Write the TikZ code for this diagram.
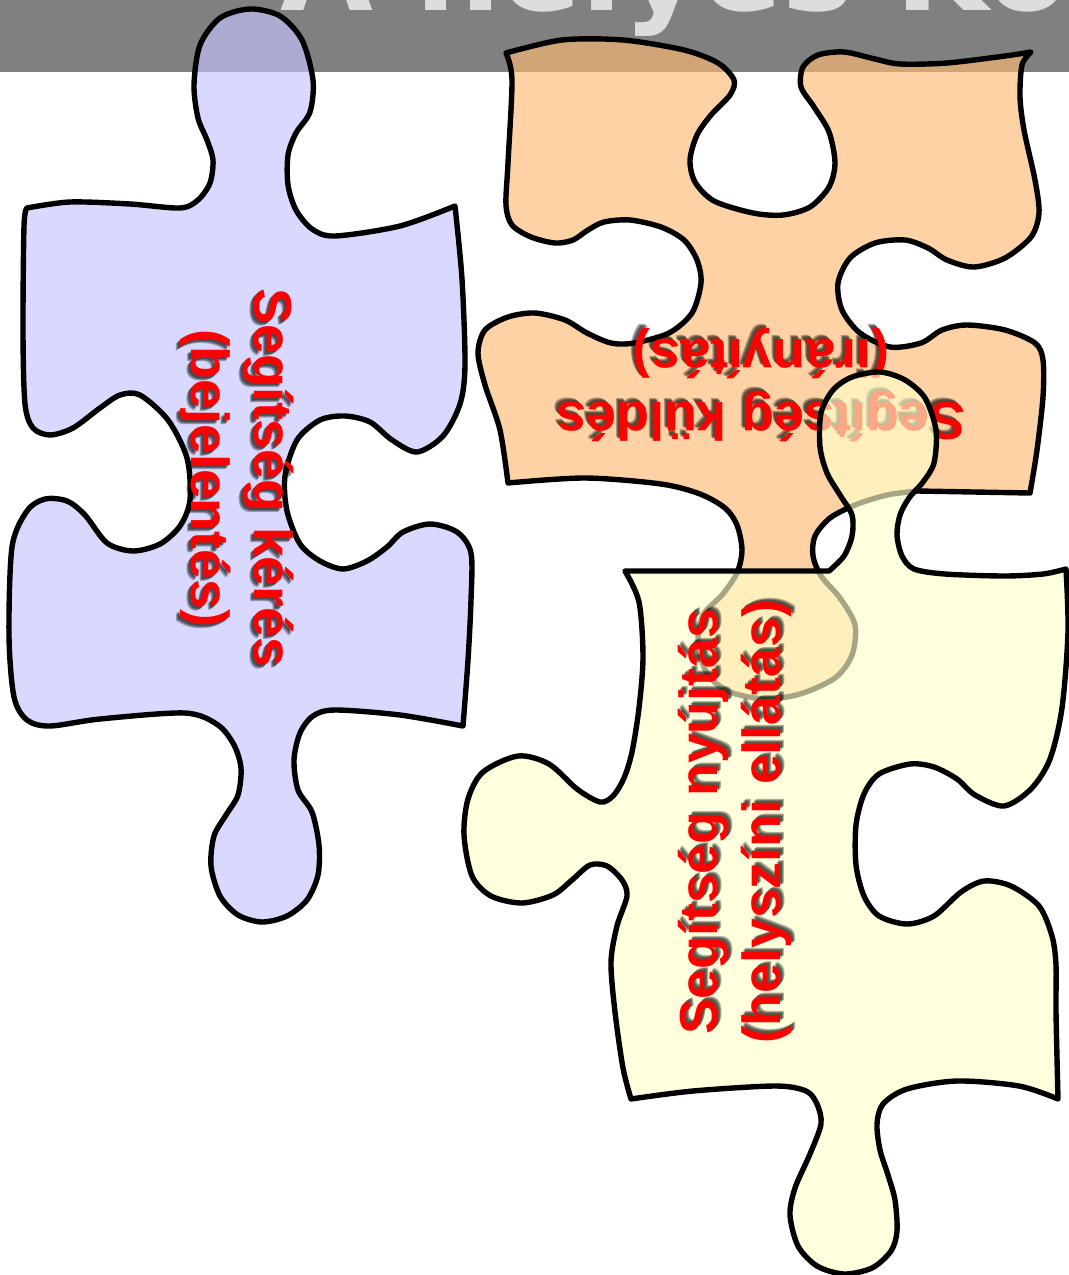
\documentclass[tikz,border=0pt]{standalone}
\usepackage{fontspec}
\setmainfont{Liberation Sans}
\newfontfamily\titlefont{DejaVu Sans}
\usepackage{tikz}
\definecolor{bandgray}{RGB}{128,128,128}
\definecolor{titlegray}{RGB}{221,221,221}
\definecolor{kekbg}{RGB}{197,197,255}
\definecolor{narancsbg}{RGB}{255,186,117}
\definecolor{sargabg}{RGB}{255,255,203}
\definecolor{felirat}{RGB}{255,0,0}
\tikzset{
  piece/.style={draw=black, line width=2.7pt, line join=round, fill opacity=0.65},
  piecetext/.style={font=\fontsize{26.8}{31.5}\selectfont\bfseries, align=center,
    inner sep=0pt, text=felirat},
  piecetext shadow/.style={piecetext, text=black, text opacity=0.3},
}

\begin{document}
\begin{tikzpicture}[x=0.5pt, y=-0.5pt]
  \useasboundingbox (0,0) rectangle (1069,1275);
  % header band
  \fill[bandgray] (0,0) rectangle (1069,72);
  \begin{scope}
    \clip (0,0) rectangle (1069,72);
    \node[anchor=base west, inner sep=0pt, text=titlegray,
      font=\titlefont\bfseries\fontsize{60}{72}\selectfont] (title) at (280,10) {A helyes Kom};
  \end{scope}

  % blue piece
  \path[piece, fill=kekbg]
    plot[smooth] coordinates {(27,208) (70,202) (130,204) (180,208) (198,200) (210,183)
      (213,160) (207,140) (198,118) (194,85) (200,45) (220,18) (250,9) (280,16) (302,40)
      (313,80) (310,112) (296,133) (288,155) (288,185) (296,210) (312,229) (335,236)
      (400,226) (455,206)}
    -- plot[smooth] coordinates {(455,206) (462,279) (465,365) (460,404) (443,436)
      (417,452) (392,440) (370,422) (345,416) (320,420) (297,440) (285,476) (287,511)
      (300,544) (320,561) (343,569) (367,561) (387,547) (403,532) (430,524) (457,532)
      (471,553) (471,600) (468,660) (463,726)}
    -- plot[smooth] coordinates {(463,726) (400,715) (335,710) (313,716) (300,733)
      (294,760) (298,790) (312,812) (319,845) (318,875) (307,900) (287,916) (262,922)
      (238,915) (220,896) (211,866) (214,836) (226,815) (238,795) (241,768) (234,745)
      (218,725) (185,713) (100,719) (50,726) (27,720) (14,697) (9,636) (12,547) (27,511)
      (45,499) (67,501) (85,515) (107,543) (133,551) (160,544) (180,526) (190,500)
      (187,458) (168,420) (140,395) (120,395) (100,408) (73,428) (50,435) (33,428)
      (25,404) (23,333) (24,226) (27,208)}
    -- cycle;
  \foreach \d in {2,3,4}
    \node[piecetext shadow, rotate=-90] (kerestxtsh\d) at (237-\d,478+\d) {Segítség kérés\\(bejelentés)};
  \node[piecetext, rotate=-90] (kerestxt) at (237,478) {Segítség kérés\\(bejelentés)};

  % orange piece
  \path[piece, fill=narancsbg]
    plot[smooth] coordinates {(506,53) (562,40) (623,40) (684,50) (718,63) (734,80)
      (730,95) (711,115) (697,135) (690,160) (695,182) (714,201) (753,213) (783,215)
      (810,207) (829,187) (835,163) (829,132) (814,107) (801,87) (803,67) (818,55)
      (844,52) (875,59) (900,64) (947,63) (1005,56) (1031,52)}
    -- plot[smooth] coordinates {(1031,52) (1022,65) (1020,97) (1024,130) (1035,180)
      (1039,213) (1031,237) (1005,258) (974,267) (947,260) (928,248) (905,240) (875,243)
      (850,258) (838,283) (842,310) (860,333) (890,347) (921,343) (942,330) (967,325)
      (1005,330) (1035,343) (1043,360) (1043,397) (1037,450) (1030,493)}
    -- plot[smooth] coordinates {(918,491) (887,495) (855,505) (830,518) (815,536)
      (813,556) (821,576) (840,598) (855,625) (852,655) (835,678) (800,694) (765,699)
      (730,692) (708,675) (698,645) (703,615) (722,595) (737,573) (742,550) (737,525)
      (725,508) (700,494) (661,484) (585,478) (508,483)}
    -- plot[smooth] coordinates {(508,483) (500,430) (485,385) (478,353) (485,330)
      (508,317) (535,313) (565,320) (587,333) (611,343) (634,343) (669,333) (692,313)
      (701,283) (697,260) (684,240) (661,227) (630,220) (604,222) (588,230) (573,240)
      (555,243) (531,237) (512,225) (506,205) (508,163) (512,80) (506,53)}
    -- cycle;
  \foreach \d in {2,3,4}
    \node[piecetext shadow, rotate=180] (kuldestxtsh\d) at (761-\d,385-\d) {Segítség küldés\\(irányítás)};
  \node[piecetext, rotate=180] (kuldestxt) at (761,385) {Segítség küldés\\(irányítás)};

  % yellow piece
  \path[piece, fill=sargabg]
    plot[smooth] coordinates {(625,571) (829,571)}
    -- plot[smooth] coordinates {(829,571) (844,556) (852,536) (852,515) (840,495)
      (827,473) (820,447) (821,413) (833,390) (852,377) (880,372) (905,380) (925,398)
      (936,430) (934,463) (923,482) (909,498) (900,515) (897,535) (902,556) (914,569)
      (945,574) (1004,576) (1043,574) (1066,569)}
    -- plot[smooth] coordinates {(1066,569) (1068,632) (1062,708) (1050,759) (1031,789)
      (1004,806) (975,795) (957,779) (934,767) (910,764) (879,774) (864,794) (856,825)
      (856,865) (864,896) (879,916) (907,924) (934,916) (961,892) (984,881) (1011,886)
      (1039,906) (1052,936) (1056,965) (1056,1012) (1058,1099)}
    -- plot[smooth] coordinates {(1058,1099) (1019,1086) (957,1081) (907,1089) (883,1104)
      (877,1124) (880,1150) (888,1175) (895,1200) (897,1231) (891,1251) (872,1268)
      (844,1274) (817,1266) (798,1246) (790,1215) (795,1188) (810,1154) (821,1124)
      (817,1104) (806,1091) (775,1086) (693,1091) (631,1099)}
    -- plot[smooth] coordinates {(631,1099) (623,1068) (615,1012) (611,962) (617,926)
      (627,896) (622,880) (607,866) (590,865) (572,880) (553,895) (522,903) (491,896)
      (472,876) (464,835) (468,799) (483,772) (518,756) (549,764) (577,789) (600,802)
      (613,796) (624,778) (632,752) (639,708) (643,657) (639,602) (625,571)}
    -- cycle;
  \foreach \d in {2,3,4}
    \node[piecetext shadow, rotate=90] (nyujtastxtsh\d) at (735+\d,822-\d) {Segítség nyújtás\\(helyszíni ellátás)};
  \node[piecetext, rotate=90] (nyujtastxt) at (735,822) {Segítség nyújtás\\(helyszíni ellátás)};
\end{tikzpicture}
\end{document}
